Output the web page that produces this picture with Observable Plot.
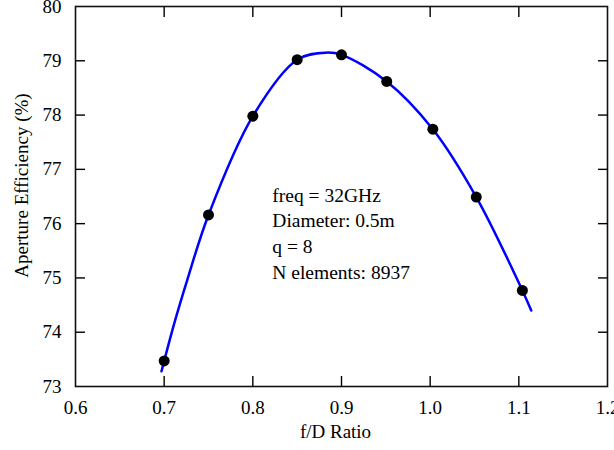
<!DOCTYPE html>
<html>
<head>
<meta charset="utf-8">
<script src="https://cdn.jsdelivr.net/npm/d3@7"></script>
<script src="https://cdn.jsdelivr.net/npm/@observablehq/plot@0.6"></script>
<style>
  html, body { margin: 0; padding: 0; background: white; }
</style>
</head>
<body>
<div id="chart"></div>
<script>
// Measured points (f/D ratio vs aperture efficiency %)
const pointX = [0.700, 0.750, 0.800, 0.850, 0.900, 0.951, 1.003, 1.052, 1.104];
const pointY = [73.47, 76.16, 77.98, 79.02, 79.11, 78.62, 77.74, 76.49, 74.77];

// Fitted blue curve
const curveX = [0.697, 0.711, 0.726, 0.750, 0.800, 0.850, 0.882, 0.900, 0.951, 1.003, 1.052, 1.104, 1.114];
const curveY = [73.28, 74.14, 74.96, 76.16, 77.98, 79.02, 79.15, 79.11, 78.62, 77.74, 76.49, 74.77, 74.40];

const xTicks = [0.6, 0.7, 0.8, 0.9, 1.0, 1.1, 1.2];
const yTicks = [73, 74, 75, 76, 77, 78, 79, 80];
const xInnerTicks = [0.7, 0.8, 0.9, 1.0, 1.1];
const yInnerTicks = [74, 75, 76, 77, 78, 79];

const xLabel = "f/D Ratio";
const yLabel = "Aperture Efficiency (%)";
const annotation = ["freq = 32GHz", "Diameter: 0.5m", "q = 8", "N elements: 8937"];
const annotationPos = {x: 0.822, y: 76.74};

const points = pointX.map((x, i) => ({x, y: pointY[i]}));
const curve = curveX.map((x, i) => ({x, y: curveY[i]}));
const serif = "Liberation Serif";

const chart = Plot.plot({
  width: 614,
  height: 450,
  marginLeft: 75,
  marginRight: 7,
  marginTop: 6,
  marginBottom: 64,
  style: {fontFamily: serif, fontSize: "19px", background: "white", color: "black"},
  x: {domain: [0.6, 1.2]},
  y: {domain: [73, 80]},
  marks: [
    Plot.frame({stroke: "#111", strokeWidth: 1.6}),
    // inward ticks on all four sides
    Plot.axisX(xInnerTicks, {anchor: "bottom", tickSize: -10, text: null, label: null, strokeWidth: 1.4}),
    Plot.axisX(xInnerTicks, {anchor: "top", tickSize: -10, text: null, label: null, strokeWidth: 1.4}),
    Plot.axisY(yInnerTicks, {anchor: "left", tickSize: -10, text: null, label: null, strokeWidth: 1.4}),
    Plot.axisY(yInnerTicks, {anchor: "right", tickSize: -10, text: null, label: null, strokeWidth: 1.4}),
    // tick labels
    Plot.axisX(xTicks, {anchor: "bottom", tickSize: 0, tickPadding: 14, label: null, fontSize: 19, fontFamily: serif, tickFormat: d3.format(".1f")}),
    Plot.axisY(yTicks, {anchor: "left", tickSize: 0, tickPadding: 14, label: null, fontSize: 19, fontFamily: serif, tickFormat: d3.format("d")}),
    // axis titles
    Plot.text([xLabel], {frameAnchor: "bottom", dy: 38, dx: -6, lineAnchor: "top", textAnchor: "middle", fontSize: 19, fontFamily: serif}),
    Plot.text([yLabel], {frameAnchor: "left", rotate: -90, dx: -54, dy: -11, textAnchor: "middle", lineAnchor: "middle", fontSize: 19, fontFamily: serif}),
    // curve and points
    Plot.line(curve, {x: "x", y: "y", stroke: "#0000ff", strokeWidth: 2.5, curve: "catmull-rom"}),
    Plot.dot(points, {x: "x", y: "y", r: 5.5, fill: "black", stroke: "none"}),
    // annotation
    Plot.text([annotation.join("\n")], {x: () => annotationPos.x, y: () => annotationPos.y, textAnchor: "start", lineAnchor: "top", lineHeight: 1.32, fontSize: 19.5, fontFamily: serif})
  ]
});
document.getElementById("chart").appendChild(chart);
</script>
</body>
</html>
